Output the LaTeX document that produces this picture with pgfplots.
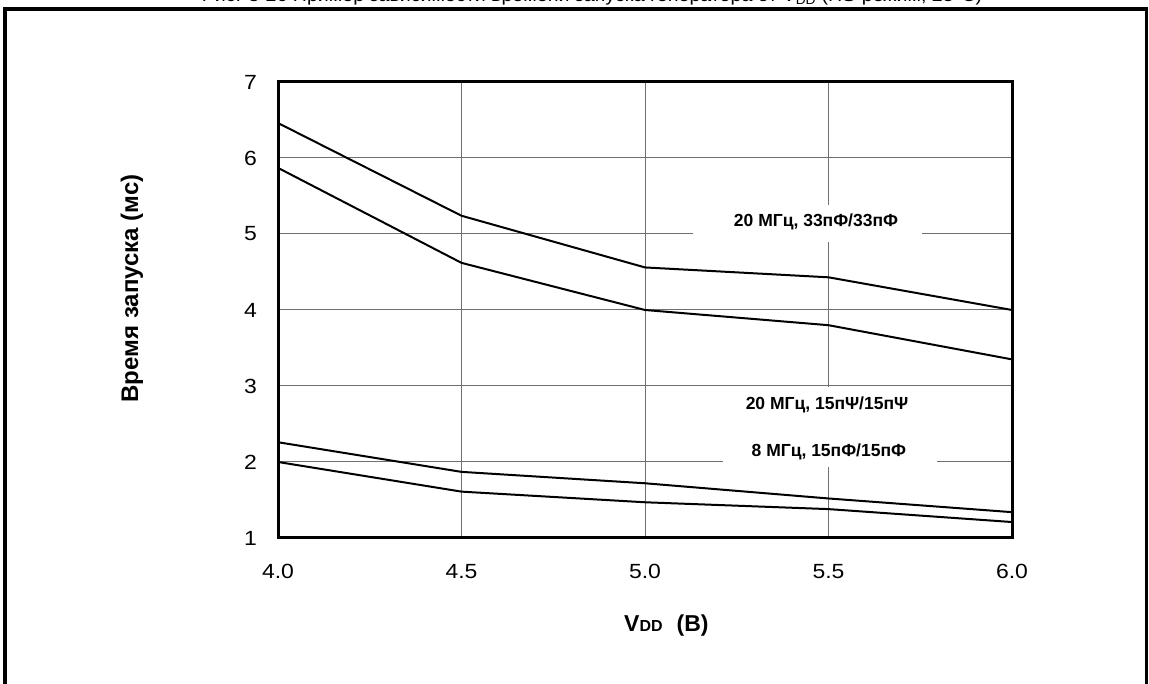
\documentclass[border=0pt]{standalone}
\usepackage{pgfplots}
\pgfplotsset{compat=1.18}
\usepackage{fontspec}
\setmainfont{Liberation Sans}
\usepackage{graphicx}
\definecolor{gridc}{HTML}{707070}
\newcommand{\tl}[1]{\scalebox{1.12}[1]{#1}}
\begin{document}
\begin{tikzpicture}[x=1pt,y=1pt]
\useasboundingbox (0,0) rectangle (1149,684);
\draw[line width=3.5pt] (5,0) -- (5,675) -- (1146.5,675) -- (1146.5,0);
\node[anchor=base, inner sep=0, font=\fontsize{17.5}{20}\selectfont] at (592,682) {\scalebox{1.12}[1]{Рис. 3-26 Пример зависимости времени запуска генератора от V\textsubscript{DD} (HS-режим, 25°C)}};
\begin{axis}[
  at={(278pt,146pt)}, anchor=south west, scale only axis,
  width=734pt, height=456pt,
  xmin=4, xmax=6, ymin=1, ymax=7,
  xtick={4,4.5,5,5.5,6},
  xticklabels={\tl{4.0},\tl{4.5},\tl{5.0},\tl{5.5},\tl{6.0}},
  ytick={1,2,3,4,5,6,7},
  yticklabels={\tl{1},\tl{2},\tl{3},\tl{4},\tl{5},\tl{6},\tl{7}},
  grid=major,
  major grid style={line width=1pt, color=gridc},
  axis line style={line width=3pt, black},
  major tick length=0pt,
  tick label style={font=\fontsize{20.5}{24}\selectfont, inner sep=0pt},
  xticklabel style={anchor=north, yshift=-26pt},
  yticklabel style={anchor=east, xshift=-21pt},
  clip=false,
]
\fill[white] (axis cs:5.131,5.38) rectangle (axis cs:5.755,4.89);
\fill[white] (axis cs:5.213,2.985) rectangle (axis cs:5.796,1.94);
\addplot[black, line width=2pt] coordinates {(4.0,6.46) (4.5,5.24) (5.0,4.56) (5.5,4.43) (6.0,4.0)};
\addplot[black, line width=2pt] coordinates {(4.0,5.87) (4.5,4.62) (5.0,4.0) (5.5,3.8) (6.0,3.35)};
\addplot[black, line width=2pt] coordinates {(4.0,2.26) (4.5,1.87) (5.0,1.72) (5.5,1.52) (6.0,1.34)};
\addplot[black, line width=2pt] coordinates {(4.0,2.0) (4.5,1.61) (5.0,1.47) (5.5,1.38) (6.0,1.21)};
\node[font=\bfseries\fontsize{17.5}{20}\selectfont] at (axis cs:5.466,5.158) {20 МГц, 33пФ/33пФ};
\node[font=\bfseries\fontsize{17.5}{20}\selectfont] at (axis cs:5.496,2.75) {20 МГц, 15пΨ/15пΨ};
\node[font=\bfseries\fontsize{17.5}{20}\selectfont] at (axis cs:5.501,2.13) {8 МГц, 15пФ/15пФ};
\end{axis}
\node[rotate=90, font=\bfseries\fontsize{24}{27}\selectfont] at (132,395.5) {Время запуска (мс)};
\node[anchor=base west, inner sep=0, font=\bfseries] at (624,52) {{\fontsize{23}{26}\selectfont V}{\fontsize{16}{18}\selectfont DD}\hspace{14pt}{\fontsize{23}{26}\selectfont (B)}};
\end{tikzpicture}
\end{document}
